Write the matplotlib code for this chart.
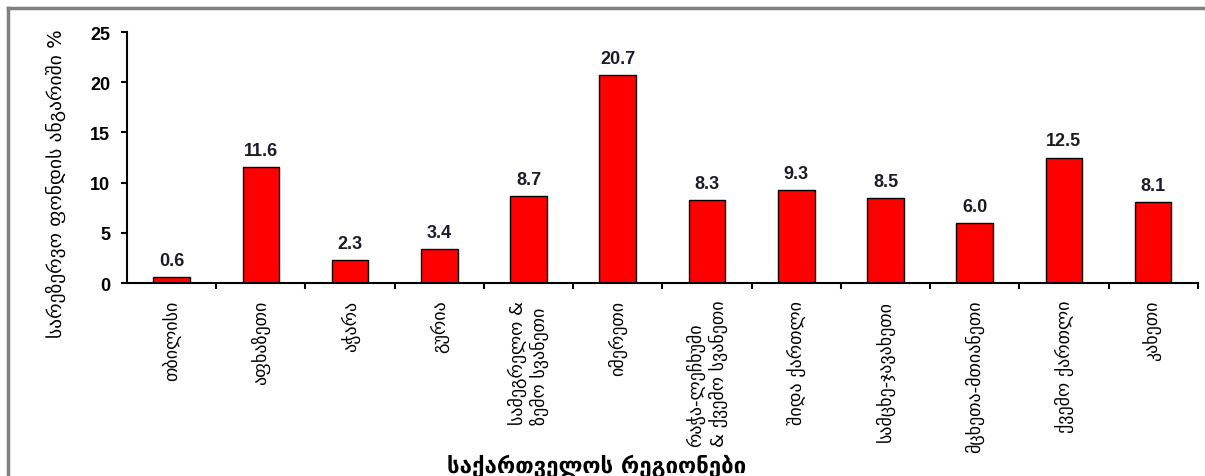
import numpy as np
import matplotlib.pyplot as plt
from matplotlib.lines import Line2D

# რეგიონები და მნიშვნელობები
regions = ['თბილისი', 'აფხაზეთი', 'აჭარა', 'გურია',
           'სამეგრელო &\nზემო სვანეთი', 'იმერეთი',
           'რაჭა-ლეჩხუმი\n& ქვემო სვანეთი', 'შიდა ქართლი',
           'სამცხე-ჯავახეთი', 'მცხეთა-მთიანეთი', 'ქვემო ქართლი', 'კახეთი']
values = [0.6, 11.6, 2.3, 3.4, 8.7, 20.7, 8.3, 9.3, 8.5, 6.0, 12.5, 8.1]
yticks = [0, 5, 10, 15, 20, 25]

fig = plt.figure(figsize=(12.05, 4.77), dpi=100)
ax = fig.add_axes([0.1054, 0.4046, 0.8886, 0.5262])

x = np.arange(len(regions))
ax.bar(x, values, width=0.41, color='#ff0000', edgecolor='black', linewidth=1.0)

# მნიშვნელობები სვეტების თავზე
for xi, v in zip(x, values):
    ax.text(xi, v + 0.8, f'{v:.1f}', ha='center', va='bottom',
            fontsize=13, fontweight='bold', family='Liberation Sans', color='#1c1c28')

ax.set_xlim(-0.5, len(regions) - 0.5)
ax.set_ylim(0, 25)
ax.set_yticks(yticks)
ax.set_yticklabels([str(t) for t in yticks], fontsize=13, fontweight='bold',
                   family='Liberation Sans')

# ტიკები სვეტებს შორის, წარწერები სვეტების ქვეშ
ax.set_xticks(x + 0.5)
ax.set_xticklabels([])
ax.set_xticks(x, minor=True)
ax.set_xticklabels(regions, minor=True, rotation=90, fontsize=13,
                   family='DejaVu Sans', va='top', ha='center',
                   multialignment='left', linespacing=1.2)
ax.tick_params(axis='x', which='minor', length=0, pad=12)
ax.tick_params(axis='x', which='major', length=4, width=1.5, direction='out')
ax.tick_params(axis='y', length=4, width=1.5, direction='out', pad=8)

for s in ['top', 'right']:
    ax.spines[s].set_visible(False)
for s in ['left', 'bottom']:
    ax.spines[s].set_linewidth(1.5)

fig.text(0.046, 0.615, 'სარეზერვო ფონდის ანგარიში %', rotation=90,
         ha='center', va='center', fontsize=14, family='DejaVu Sans')
fig.text(0.495, 0.023, 'საქართველოს რეგიონები', ha='center', va='center',
         fontsize=16, fontweight='bold', family='DejaVu Sans')

# ჩარჩო ზედა და მარცხენა მხარეს
fig.add_artist(Line2D([0.007, 1.0], [0.982, 0.982], transform=fig.transFigure,
                      color='#808080', linewidth=2.5))
fig.add_artist(Line2D([0.007, 0.007], [0.0, 0.982], transform=fig.transFigure,
                      color='#808080', linewidth=2.5))

fig.savefig('out.png', dpi=100)
